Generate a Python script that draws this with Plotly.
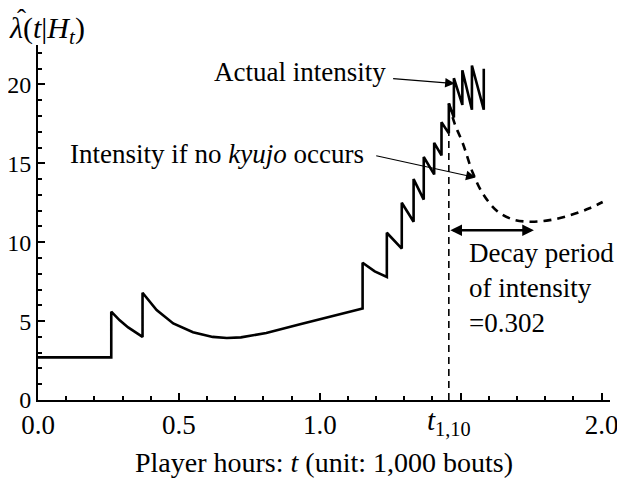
import plotly.graph_objects as go

# actual intensity (vertical jumps = repeated t values)
t_actual = [0, 0.26, 0.26, 0.29, 0.32, 0.35, 0.371, 0.371, 0.421, 0.48, 0.55, 0.62,
            0.67, 0.72, 0.81, 0.93, 1.05, 1.152, 1.152, 1.195, 1.238, 1.238, 1.291,
            1.291, 1.333, 1.333, 1.369, 1.369, 1.406, 1.406, 1.432, 1.432, 1.458,
            1.458, 1.476, 1.476, 1.506, 1.506, 1.540, 1.540, 1.582, 1.582]
lam_actual = [2.7, 2.7, 5.6, 5.05, 4.6, 4.22, 4.0, 6.8, 5.7, 4.85, 4.3, 4.0,
              3.93, 3.97, 4.25, 4.8, 5.35, 5.8, 8.7, 8.15, 7.8, 10.6, 9.6,
              12.5, 11.3, 14.0, 12.7, 15.4, 14.3, 16.3, 15.5, 17.6, 16.9,
              18.8, 17.9, 20.4, 18.7, 20.9, 18.4, 21.2, 18.4, 21.0]

# intensity if no kyujo occurs after t_{1,10}
t_nokyujo = [1.458, 1.479, 1.507, 1.543, 1.578, 1.628, 1.684, 1.745, 1.816, 1.887, 1.957, 2.004]
lam_nokyujo = [18.8, 17.5, 16.3, 14.4, 13.1, 12.0, 11.45, 11.3, 11.4, 11.7, 12.15, 12.55]

t_1_10 = 1.458
decay_period = 0.302

x_tickvals = [0, 0.5, 1.0, 1.5, 2.0]
x_ticktext = ["0.0", "0.5", "1.0", "", "2.0"]
y_tickvals = [0, 5, 10, 15, 20]

serif = "Times New Roman, Liberation Serif, Tinos, DejaVu Serif, serif"

fig = go.Figure()
fig.add_trace(go.Scatter(x=[t_1_10, t_1_10], y=[0, 16.9], mode="lines",
                         line=dict(color="black", width=1.6, dash="7px,5px")))
fig.add_trace(go.Scatter(x=t_nokyujo, y=lam_nokyujo, mode="lines", line_shape="spline",
                         line=dict(color="black", width=2.6, dash="8px,6px")))
fig.add_trace(go.Scatter(x=t_actual, y=lam_actual, mode="lines",
                         line=dict(color="black", width=2.6)))

anns = [
    # y axis title: lambda with a hat
    dict(text="<i>λ</i>(<i>t</i>|<i>H</i><sub><i>t</i></sub>)", xref="paper", yref="paper",
         x=-0.055, y=1.1, xanchor="left", yanchor="top", showarrow=False,
         font=dict(size=30, family=serif)),
    dict(text="ˆ", xref="paper", yref="paper",
         x=-0.04, y=1.122, xanchor="left", yanchor="top", showarrow=False,
         font=dict(size=27, family=serif)),
    # x axis title
    dict(text="Player hours: <i>t</i> (unit: 1,000 bouts)", xref="paper", yref="paper",
         x=0.5, y=-0.175, xanchor="center", yanchor="middle", showarrow=False,
         font=dict(size=28, family=serif)),
    # t_{1,10} tick label
    dict(text="<i>t</i><sub>1,10</sub>", x=t_1_10, y=0, xref="x", yref="y",
         yshift=-22, xanchor="center", yanchor="middle", showarrow=False,
         font=dict(size=29, family=serif)),
    dict(text="Actual intensity", x=1.242, y=20.8, xanchor="right", yanchor="middle",
         showarrow=False, font=dict(size=27, family=serif)),
    dict(text="", x=1.479, y=20.06, ax=1.255, ay=20.38, axref="x", ayref="y",
         showarrow=True, arrowhead=2, arrowsize=1.6, arrowwidth=1.2, arrowcolor="black"),
    dict(text="Intensity if no <i>kyujo</i> occurs", x=0.106, y=15.6, xanchor="left",
         yanchor="middle", showarrow=False, font=dict(size=27, family=serif)),
    dict(text="", x=1.553, y=14.1, ax=1.195, ay=15.5, axref="x", ayref="y",
         showarrow=True, arrowhead=2, arrowsize=1.6, arrowwidth=1.2, arrowcolor="black"),
    dict(text="", x=t_1_10 + decay_period, y=10.76, ax=t_1_10, ay=10.76, axref="x", ayref="y",
         showarrow=True, arrowhead=2, startarrowhead=2, arrowside="end+start",
         arrowsize=0.9, arrowwidth=2.6, arrowcolor="black"),
    dict(text="Decay period<br>of intensity<br>=0.302", x=1.521, y=10.4, xanchor="left",
         yanchor="top", align="left", showarrow=False, font=dict(size=27, family=serif)),
]

# page body has an 8px margin, so the figure is 8px smaller and margins shifted
fig.update_layout(
    width=617, height=470,
    margin=dict(l=30, r=15, t=37, b=78, autoexpand=False),
    paper_bgcolor="white", plot_bgcolor="white",
    showlegend=False,
    font=dict(family=serif, color="black", size=27),
    annotations=anns,
    xaxis=dict(range=[0, 2.03], showgrid=False, zeroline=False, automargin=False,
               showline=True, linecolor="black", linewidth=2,
               tickmode="array", tickvals=x_tickvals, ticktext=x_ticktext,
               ticks="inside", ticklen=7, tickwidth=2, tickcolor="black",
               minor=dict(tickmode="linear", tick0=0, dtick=0.1, ticks="inside",
                          ticklen=4, tickwidth=1.5, tickcolor="black"),
               tickfont=dict(size=27, family=serif)),
    yaxis=dict(range=[0, 22.5], showgrid=False, zeroline=False, automargin=False,
               showline=True, linecolor="black", linewidth=2,
               tickmode="array", tickvals=y_tickvals,
               ticks="inside", ticklen=7, tickwidth=2, tickcolor="black",
               minor=dict(tickmode="linear", tick0=0, dtick=1, ticks="inside",
                          ticklen=4, tickwidth=1.5, tickcolor="black"),
               tickfont=dict(size=24, family=serif)),
)

fig.write_html("out.html")
